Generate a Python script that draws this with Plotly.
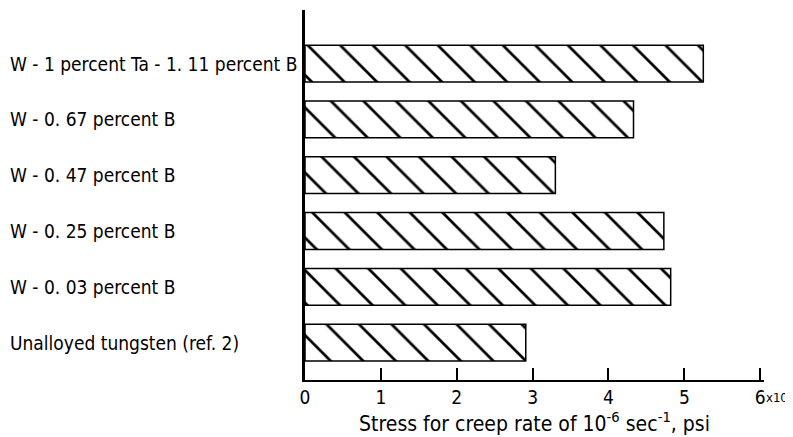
import plotly.graph_objects as go

categories = [
    "Unalloyed tungsten (ref. 2)",
    "W - 0. 03 percent B",
    "W - 0. 25 percent B",
    "W - 0. 47 percent B",
    "W - 0. 67 percent B",
    "W - 1 percent Ta - 1. 11 percent B",
]
stress_ksi = [2.91, 4.82, 4.73, 3.30, 4.33, 5.25]
tick_vals = [0, 1, 2, 3, 4, 5, 6]
tick_text = ["0", "1", "2", "3", "4", "5", "6"]

FONT = "DejaVu Sans Condensed"
FS = 19

# page has an 8px body margin, so the figure is sized to fill the rest of the window
W, H = 785, 429
L, R, T, B = 297, 29, 2, 57
plot_w = W - L - R

fig = go.Figure()
fig.add_trace(go.Bar(
    x=stress_ksi,
    y=list(range(len(categories))),
    orientation="h",
    width=0.66,
    marker=dict(
        color="white",
        line=dict(color="black", width=1.5),
        pattern=dict(shape="\\", fgcolor="black", bgcolor="white", fgopacity=1,
                     size=23, solidity=0.12),
    ),
    showlegend=False,
))

annotations = []
for i, c in enumerate(categories):
    annotations.append(dict(
        x=-L / plot_w, xref="paper", y=i, yref="y", text=c, showarrow=False,
        xanchor="left", yanchor="middle", font=dict(size=FS, color="black", family=FONT),
    ))
annotations.append(dict(
    x=6, xref="x", y=0, yref="paper", text="x10<sup>3</sup>", showarrow=False,
    xanchor="left", yanchor="top", xshift=5, yshift=-8, borderpad=0,
    font=dict(size=13, color="black", family=FONT),
))

fig.update_layout(
    width=W, height=H,
    margin=dict(l=L, r=R, t=T, b=B),
    paper_bgcolor="white", plot_bgcolor="white",
    font=dict(family=FONT, size=FS, color="black"),
    annotations=annotations,
    xaxis=dict(
        range=[0, 6.05], tickvals=tick_vals, ticktext=tick_text,
        ticks="inside", ticklen=12, tickwidth=2, tickcolor="black",
        showline=True, linecolor="black", linewidth=2,
        showgrid=False, zeroline=False,
        title=dict(text="Stress for creep rate of 10<sup>-6</sup> sec<sup>-1</sup>, psi",
                   font=dict(size=21), standoff=2),
        tickfont=dict(size=19),
        ticklabelstandoff=-1,
        automargin=False,
    ),
    yaxis=dict(
        range=[-0.67, 5.96], showticklabels=False, ticks="",
        showline=True, linecolor="black", linewidth=3,
        showgrid=False, zeroline=False,
    ),
)

fig.write_html("out.html")
